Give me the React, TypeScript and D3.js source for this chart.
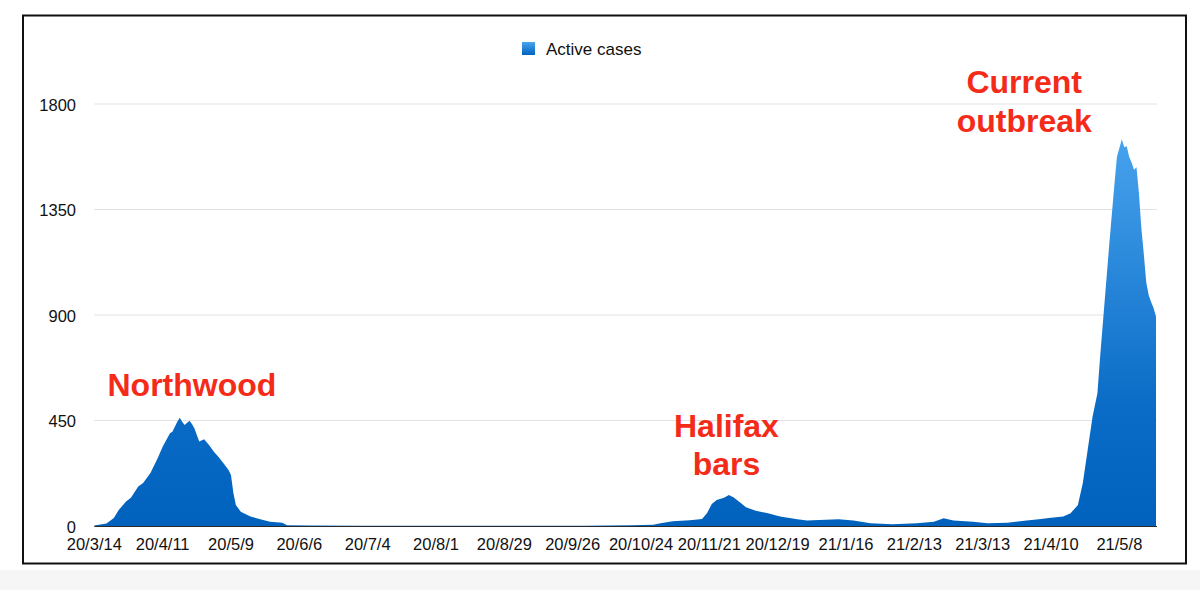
import React from "react";
import * as d3 from "d3";

const DATES: string[] = [
  "2020-03-14","2020-03-19","2020-03-22","2020-03-24","2020-03-27","2020-03-29","2020-04-01","2020-04-03",
  "2020-04-06","2020-04-09","2020-04-11","2020-04-14","2020-04-15","2020-04-17","2020-04-18","2020-04-19",
  "2020-04-20","2020-04-22","2020-04-23","2020-04-24","2020-04-25","2020-04-26","2020-04-28","2020-04-30",
  "2020-05-02","2020-05-04","2020-05-06","2020-05-08","2020-05-09","2020-05-10","2020-05-11","2020-05-13",
  "2020-05-17","2020-05-21","2020-05-25","2020-05-30","2020-06-01","2020-06-10","2020-07-01","2020-08-01",
  "2020-09-01","2020-10-01","2020-10-20","2020-10-29","2020-11-01","2020-11-06","2020-11-13","2020-11-18",
  "2020-11-20","2020-11-22","2020-11-24","2020-11-27","2020-11-29","2020-12-01","2020-12-04","2020-12-06",
  "2020-12-10","2020-12-15","2020-12-20","2020-12-27","2020-12-31","2021-01-05","2021-01-13","2021-01-19",
  "2021-01-26","2021-02-04","2021-02-14","2021-02-21","2021-02-25","2021-03-01","2021-03-09","2021-03-15",
  "2021-03-23","2021-03-31","2021-04-05","2021-04-10","2021-04-15","2021-04-18","2021-04-21","2021-04-23",
  "2021-04-25","2021-04-27","2021-04-29","2021-04-30","2021-05-02","2021-05-04","2021-05-06","2021-05-07",
  "2021-05-09","2021-05-10","2021-05-11","2021-05-12","2021-05-13","2021-05-14","2021-05-15","2021-05-16",
  "2021-05-17","2021-05-18","2021-05-19","2021-05-20","2021-05-21","2021-05-22","2021-05-23",
];

const ACTIVE_CASES: number[] = [
  2, 11, 34, 68, 104, 120, 168, 183,
  226, 290, 338, 396, 402, 445, 462, 445,
  431, 449, 435, 417, 388, 360, 370, 345,
  317, 293, 267, 239, 218, 140, 90, 61,
  40, 29, 18, 14, 3, 2, 1, 1,
  1, 1, 3, 5, 12, 20, 24, 30,
  54, 94, 111, 121, 132, 122, 97, 80,
  65, 54, 40, 29, 23, 26, 29, 23,
  12, 7, 12, 18, 33, 23, 18, 12,
  14, 23, 29, 35, 40, 54, 90, 182,
  324, 466, 566, 708, 964, 1220, 1462, 1575,
  1650, 1615, 1620, 1575, 1550, 1520, 1530, 1420,
  1270, 1160, 1040, 985, 955, 930, 893,
];

const X_TICKS: string[] = [
  "2020-03-14","2020-04-11","2020-05-09","2020-06-06","2020-07-04","2020-08-01","2020-08-29","2020-09-26",
  "2020-10-24","2020-11-21","2020-12-19","2021-01-16","2021-02-13","2021-03-13","2021-04-10","2021-05-08",
];

const Y_TICKS: number[] = [0, 450, 900, 1350, 1800];

const SERIES_NAME = "Active cases";

const ANNOTATIONS: { lines: string[]; date: string; value: number }[] = [
  { lines: ["Northwood"], date: "2020-04-23", value: 555 },
  { lines: ["Halifax", "bars"], date: "2020-11-28", value: 381 },
  { lines: ["Current", "outbreak"], date: "2021-03-30", value: 1845 },
];

const FONT = "'Liberation Sans', Arial, Helvetica, sans-serif";

export default function App() {
  const parse = d3.timeParse("%Y-%m-%d");
  const fmt = d3.timeFormat("%y/%-m/%-d");
  const data = DATES.map((d, i) => ({ date: parse(d) as Date, value: ACTIVE_CASES[i] }));

  const x = d3
    .scaleTime()
    .domain([parse("2020-03-14") as Date, parse("2021-05-23") as Date])
    .range([94.3, 1156]);
  const y = d3.scaleLinear().domain([0, 1800]).range([526, 104]);

  const area = d3
    .area<{ date: Date; value: number }>()
    .x((d) => x(d.date))
    .y0(y(0))
    .y1((d) => y(d.value))
    .curve(d3.curveLinear);

  const [x0, x1] = x.range();
  const red = "#f42b19";

  return (
    <svg
      width={1200}
      height={590}
      style={{ position: "absolute", left: 0, top: 0, display: "block" }}
      fontFamily={FONT}
    >
      <defs>
        <linearGradient id="fillGrad" gradientUnits="userSpaceOnUse" x1={0} y1={y(0)} x2={0} y2={y(1700)}>
          <stop offset="0%" stopColor="#0062bd" />
          <stop offset="30%" stopColor="#0a6cc6" />
          <stop offset="100%" stopColor="#4aa5ef" />
        </linearGradient>
        <linearGradient id="legGrad" x1="0" y1="1" x2="0" y2="0">
          <stop offset="0%" stopColor="#0062bd" />
          <stop offset="100%" stopColor="#4aa5ef" />
        </linearGradient>
      </defs>
      <rect x={0} y={0} width={1200} height={590} fill="#ffffff" />
      <rect x={0} y={570} width={1200} height={20} fill="#f6f6f6" />
      <rect x={23} y={15.5} width={1163} height={548} fill="#ffffff" stroke="#111" strokeWidth={2} />

      {Y_TICKS.filter((t) => t > 0).map((t) => (
        <line key={t} x1={x0} x2={x1 + 1} y1={y(t)} y2={y(t)} stroke="#e2e2e2" strokeWidth={1} />
      ))}

      <path d={area(data) || ""} fill="url(#fillGrad)" />
      <line x1={x0} x2={x1 + 1} y1={y(0) + 0.5} y2={y(0) + 0.5} stroke="#2a2a2a" strokeWidth={1} />

      {Y_TICKS.map((t) => (
        <text key={t} x={76} y={y(t) + 1} dy="0.35em" textAnchor="end" fontSize={16.5} fill="#111">
          {t}
        </text>
      ))}

      {X_TICKS.map((t) => {
        const dt = parse(t) as Date;
        return (
          <text key={t} x={x(dt)} y={549.5} textAnchor="middle" fontSize={16.5} fill="#111">
            {fmt(dt)}
          </text>
        );
      })}

      <rect x={522} y={42} width={13} height={13} fill="url(#legGrad)" />
      <text x={546} y={55} fontSize={17} fill="#111">
        {SERIES_NAME}
      </text>

      {ANNOTATIONS.map((a) => (
        <text
          key={a.lines[0]}
          x={x(parse(a.date) as Date)}
          y={y(a.value)}
          textAnchor="middle"
          fontSize={32}
          fontWeight="bold"
          fill={red}
        >
          {a.lines.map((l, i) => (
            <tspan key={l} x={x(parse(a.date) as Date)} dy={i === 0 ? 0 : 38.5}>
              {l}
            </tspan>
          ))}
        </text>
      ))}
    </svg>
  );
}
